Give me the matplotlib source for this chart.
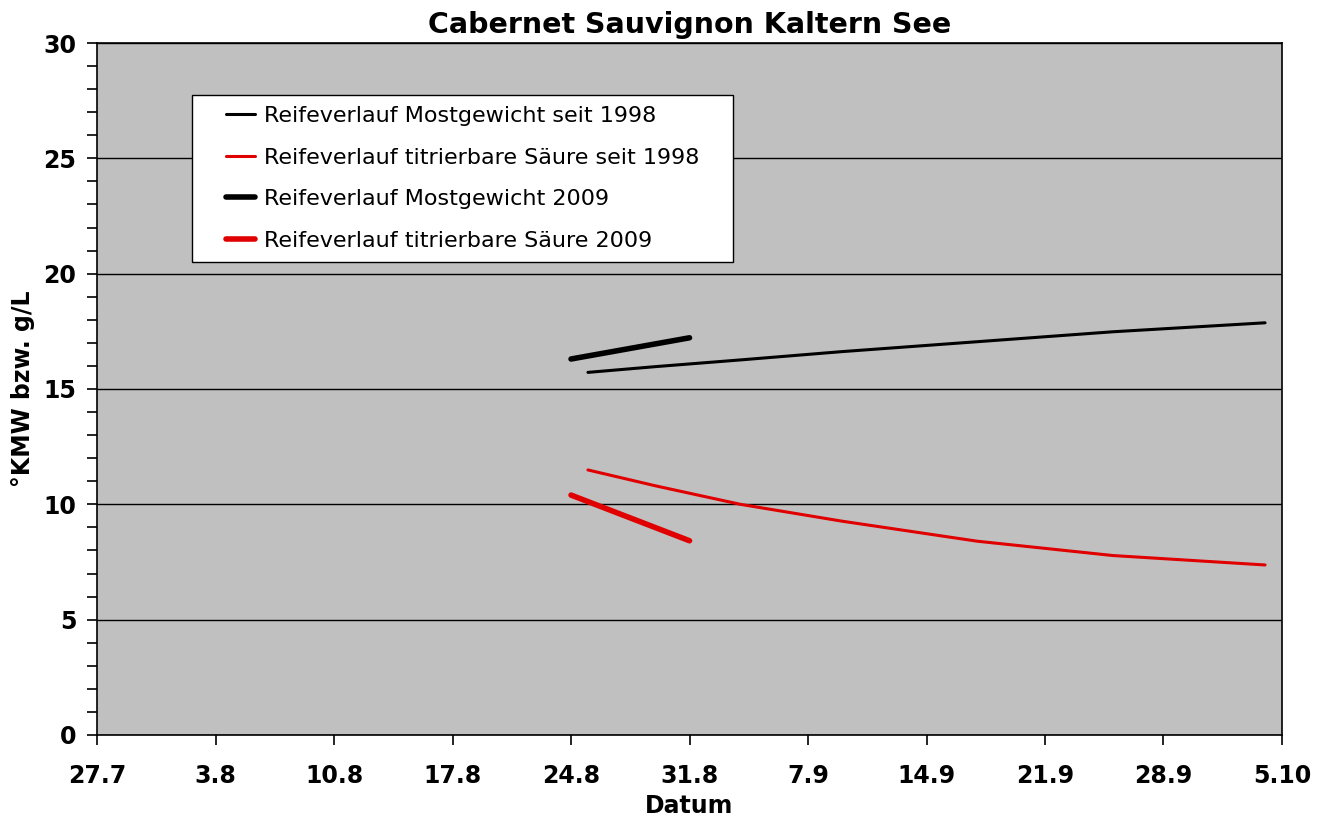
import matplotlib

matplotlib.use("Agg")
import matplotlib.pyplot as plt
from matplotlib.patches import Rectangle
import pandas as pd

# long-term mean curves (since 1998)
mean_dates = ["2009-08-25", "2009-08-29", "2009-09-03", "2009-09-09", "2009-09-17",
              "2009-09-25", "2009-10-04"]
mean_mostgewicht = [15.72, 15.97, 16.26, 16.62, 17.05, 17.48, 17.87]
mean_saeure = [11.49, 10.80, 10.00, 9.27, 8.40, 7.78, 7.37]

# 2009 season
y2009_dates = ["2009-08-24", "2009-08-31"]
y2009_mostgewicht = [16.30, 17.22]
y2009_saeure = [10.40, 8.42]

tick_dates = ["2009-07-27", "2009-08-03", "2009-08-10", "2009-08-17", "2009-08-24",
              "2009-08-31", "2009-09-07", "2009-09-14", "2009-09-21", "2009-09-28",
              "2009-10-05"]
tick_labels = ["27.7", "3.8", "10.8", "17.8", "24.8", "31.8", "7.9", "14.9", "21.9",
               "28.9", "5.10"]

series_labels = [
    "Reifeverlauf Mostgewicht seit 1998",
    "Reifeverlauf titrierbare Säure seit 1998",
    "Reifeverlauf Mostgewicht 2009",
    "Reifeverlauf titrierbare Säure 2009",
]

plt.rcParams["font.family"] = ["DejaVu Sans"]

fig = plt.figure(figsize=(13.26, 8.21), dpi=100)
ax = fig.add_axes([0.0732, 0.1048, 0.8936, 0.8428])
ax.set_facecolor("#c0c0c0")

md = pd.to_datetime(mean_dates)
yd = pd.to_datetime(y2009_dates)
ax.plot(md, mean_mostgewicht, color="black", lw=2.2, solid_capstyle="round",
        solid_joinstyle="round", label=series_labels[0], zorder=3)
ax.plot(md, mean_saeure, color="#e00000", lw=2.2, solid_capstyle="round",
        solid_joinstyle="round", label=series_labels[1], zorder=3)
ax.plot(yd, y2009_mostgewicht, color="black", lw=4.0, solid_capstyle="round",
        label=series_labels[2], zorder=3)
ax.plot(yd, y2009_saeure, color="#e00000", lw=4.0, solid_capstyle="round",
        label=series_labels[3], zorder=3)

td = pd.to_datetime(tick_dates)
ax.set_xlim(td[0], td[-1])
ax.set_xticks(td)
ax.set_xticklabels(tick_labels)
ax.set_ylim(0, 30)
ax.set_yticks(range(0, 31, 5))
ax.set_yticks(range(0, 31, 1), minor=True)
ax.grid(True, axis="y", which="major", color="black", lw=1.0, zorder=1)
ax.set_axisbelow(True)

ax.tick_params(axis="both", which="both", direction="out", length=7, width=1.2,
               labelsize=17)
ax.tick_params(axis="y", which="major", pad=8)
ax.tick_params(axis="x", which="major", pad=14)
ax.tick_params(axis="x", which="minor", length=0)
for lab in ax.get_xticklabels() + ax.get_yticklabels():
    lab.set_fontweight("bold")
for sp in ax.spines.values():
    sp.set_color("black")
    sp.set_linewidth(1.2)

ax.set_title("Cabernet Sauvignon Kaltern See", fontsize=20.5, fontweight="bold", pad=7)
ax.set_xlabel("Datum", fontsize=17, fontweight="bold", labelpad=4)
ax.set_ylabel("°KMW bzw. g/L", fontsize=17, fontweight="bold")
ax.yaxis.set_label_coords(-0.052, 0.5)

leg = ax.legend(loc="upper left", bbox_to_anchor=(0.0996, 0.925), borderaxespad=0,
                fontsize=16, frameon=False, handlelength=1.3, handletextpad=0.4,
                labelspacing=0.97, borderpad=0.5)
leg.set_zorder(5)

# white legend box, wider than the entries like the original
fig.canvas.draw()
bb = leg.get_window_extent().transformed(ax.transAxes.inverted())
padx = 23 / (ax.bbox.width)
box = Rectangle((bb.x0 - padx, bb.y0), bb.width + 2 * padx, bb.height,
                transform=ax.transAxes, facecolor="white", edgecolor="black",
                lw=1.0, zorder=4)
ax.add_patch(box)

fig.savefig("out.png", dpi=100)
